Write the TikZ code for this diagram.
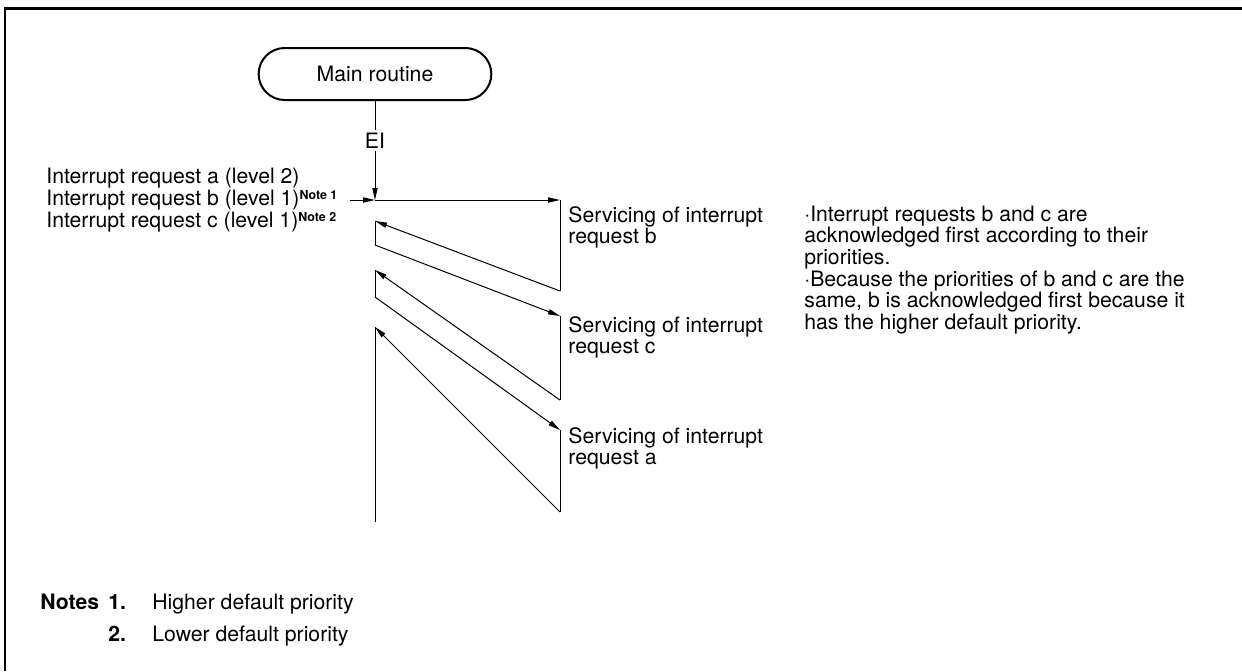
\documentclass[tikz,border=0pt]{standalone}
\usepackage{fontspec}
\setmainfont{TeX Gyre Heros}
\usetikzlibrary{positioning,arrows.meta,shapes.misc}
\newcommand\txtsz{\fontsize{10.6}{10.85}\selectfont}
\newcommand\notesup[1]{\raisebox{3pt}{\fontsize{6.2}{7}\selectfont\bfseries #1}}
\begin{document}
\begin{tikzpicture}[x=0.5pt,y=-0.5pt,
  rt/.style={draw, line width=1pt, rounded rectangle, minimum width=123pt, minimum height=26pt, font=\txtsz},
  ar/.style={-{Triangle[length=6pt,width=2.6pt]}, line width=0.5pt},
  ln/.style={line width=0.5pt},
  txt/.style={anchor=base west, align=left, inner sep=0pt, font=\txtsz}]
  \useasboundingbox (0,0) rectangle (1242,671);
  \draw[line width=1.2pt] (5,671) -- (5,8.5) -- (1242,8.5);
  % main routine and EI
  \node[rt] (main) at (375,74) {Main routine};
  \coordinate (ei) at (375,200);
  \coordinate (in) at (350,200);
  \draw[ar] (main.south) -- node[pos=0.4, fill=white, inner sep=1.5pt, font=\txtsz] (eil) {EI} (ei);
  \draw[ar] (in) -- (ei);
  % interrupt requests
  \node[txt] (reqa) at (46,183) {Interrupt request a (level 2)};
  \node[txt] (reqb) at (46,205) {Interrupt request b (level 1)\notesup{Note 1}};
  \node[txt] (reqc) at (46,227) {Interrupt request c (level 1)\notesup{Note 2}};
  % servicing zigzag
  \foreach \n/\y in {b1/200,b2/291,c1/316,c2/400,a1/430,a2/512}{\coordinate (\n) at (560,\y);}
  \foreach \n/\y in {r1/221,r1b/245,r2/270,r2b/297,r3/327,fin/522}{\coordinate (\n) at (375,\y);}
  \draw[ar] (ei) -- (b1); \draw[ln] (b1) -- (b2); \draw[ar] (b2) -- (r1); \draw[ln] (r1) -- (r1b);
  \draw[ar] (r1b) -- (c1); \draw[ln] (c1) -- (c2); \draw[ar] (c2) -- (r2); \draw[ln] (r2) -- (r2b);
  \draw[ar] (r2b) -- (a1); \draw[ln] (a1) -- (a2); \draw[ar] (a2) -- (r3); \draw[ln] (r3) -- (fin);
  % base of a multi-line node is its last line
  \foreach \k/\y in {b/243.7,c/353.7,a/464.7}{\node[txt] (srv\k) at (568,\y) {Servicing of interrupt\\request \k};}
  % explanation
  \node[txt] (expl) at (804,329.5) {·Interrupt requests b and c are\\acknowledged first according to their\\priorities.\\·Because the priorities of b and c are the\\same, b is acknowledged first because it\\has the higher default priority.};
  % notes
  \node[txt, font=\txtsz\bfseries] (notes) at (40,609) {Notes};
  \node[txt, font=\txtsz\bfseries] (n1) at (108,609) {1.};
  \node[txt] (h1) at (152,609) {Higher default priority};
  \node[txt, font=\txtsz\bfseries] (n2) at (108,641) {2.};
  \node[txt] (h2) at (152,641) {Lower default priority};
\end{tikzpicture}
\end{document}
